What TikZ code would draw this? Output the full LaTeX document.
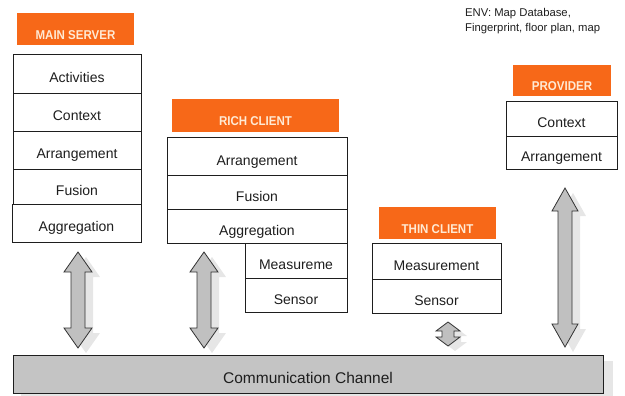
\documentclass[tikz,border=0pt]{standalone}
\usepackage{fontspec}
\setmainfont{Liberation Sans}
\usepackage{graphicx}
\usetikzlibrary{calc}
\definecolor{orng}{RGB}{247,104,24}
\definecolor{otxt}{RGB}{255,234,212}
\definecolor{agray}{RGB}{192,192,192}
\definecolor{cgray}{RGB}{196,196,196}
\definecolor{shd}{RGB}{230,230,230}
\definecolor{ink}{RGB}{30,30,30}
\newcommand\dblarrow[6]{%
  \path[#1] (#2) -- ($(#2)+(#5,#6)$) -- ($(#2)+(#4,#6)$) -- ($(#3)+(#4,-#6)$)
    -- ($(#3)+(#5,-#6)$) -- (#3) -- ($(#3)+(-#5,-#6)$) -- ($(#3)+(-#4,-#6)$)
    -- ($(#2)+(-#4,#6)$) -- ($(#2)+(-#5,#6)$) -- cycle;}
\newcommand\otx[1]{\scalebox{0.9}[1]{#1}}
\begin{document}
\begin{tikzpicture}[x=1pt,y=-1pt,
  cell/.style={draw=ink, line width=0.8pt, fill=white, inner sep=0pt,
    text height=18pt, text depth=0pt,
    font=\fontsize{14}{16}\selectfont, text=ink},
  obox/.style={fill=orng, draw=none, inner sep=0pt},
  otext/.style={text=otxt, inner sep=0pt, font=\fontsize{12.8}{14}\selectfont\bfseries},
  arr/.style={draw=black!80, line width=0.8pt, fill=agray, line join=miter},
  arrshadow/.style={fill=shd, draw=none},
  chan/.style={draw=ink, line width=0.9pt, fill=cgray, inner sep=0pt,
    text height=19pt, text depth=0pt,
    font=\fontsize{15.5}{18}\selectfont, text=ink},
  envtext/.style={align=left, inner sep=0pt, text=ink,
    font=\fontsize{11.3}{15}\selectfont}]
\useasboundingbox (0,0) rectangle (625,396);

% ---------- MAIN SERVER ----------
\node[obox, minimum width=117, minimum height=32] (msL) at (75.5,29) {};
\node[otext] (msLt) at ($(msL.center)+(0,6)$) {\otx{MAIN SERVER}};
\node[cell, minimum width=128, minimum height=39] (msAct) at (77,73.5) {Activities};
\node[cell, minimum width=128, minimum height=38] (msCtx) at (77,112) {Context};
\node[cell, minimum width=128, minimum height=38] (msArr) at (77,150) {Arrangement};
\node[cell, minimum width=128, minimum height=35] (msFus) at (77,186.5) {Fusion};
\node[cell, minimum width=129, minimum height=38] (msAgg) at (76.5,223) {Aggregation};

% ---------- RICH CLIENT ----------
\node[obox, minimum width=167, minimum height=33] (rcL) at (255.5,115.5) {};
\node[otext] (rcLt) at ($(rcL.center)+(0,6)$) {\otx{RICH CLIENT}};
\node[cell, minimum width=180, minimum height=38] (rcArr) at (257,156) {Arrangement};
\node[cell, minimum width=180, minimum height=34] (rcFus) at (257,192) {Fusion};
\node[cell, minimum width=180, minimum height=34] (rcAgg) at (257,226) {Aggregation};
\node[cell, minimum width=102, minimum height=35] (rcMea) at (296,260.5) {Measureme};
\node[cell, minimum width=102, minimum height=34] (rcSen) at (296,295) {Sensor};

% ---------- THIN CLIENT ----------
\node[obox, minimum width=117, minimum height=32] (tcL) at (437.5,223) {};
\node[otext] (tcLt) at ($(tcL.center)+(0,6)$) {\otx{THIN CLIENT}};
\node[cell, minimum width=129, minimum height=36] (tcMea) at (436.5,261) {Measurement};
\node[cell, minimum width=129, minimum height=34] (tcSen) at (436.5,296) {Sensor};

% ---------- PROVIDER ----------
\node[obox, minimum width=98, minimum height=31] (pvL) at (562,80.5) {};
\node[otext] (pvLt) at ($(pvL.center)+(0,6)$) {\otx{PROVIDER}};
\node[cell, minimum width=111, minimum height=35] (pvCtx) at (561.5,118.5) {Context};
\node[cell, minimum width=111, minimum height=33] (pvArr) at (561.5,152.5) {Arrangement};

% ---------- ENV note ----------
\node[envtext, anchor=north west] (env) at (465,8) {ENV: Map Database,\\Fingerprint, floor plan, map};

% ---------- arrow end points ----------
\coordinate (a1t) at (78,252);  \coordinate (a1b) at (78,348);
\coordinate (a2t) at (204,252); \coordinate (a2b) at (204,348);
\coordinate (a3t) at (448,322); \coordinate (a3b) at (448,346);
\coordinate (a4t) at (565,188); \coordinate (a4b) at (565,347);
\coordinate (a1ts) at ($(a1t)+(8,5)$); \coordinate (a1bs) at ($(a1b)+(8,5)$);
\coordinate (a2ts) at ($(a2t)+(8,5)$); \coordinate (a2bs) at ($(a2b)+(8,5)$);
\coordinate (a3ts) at ($(a3t)+(7,5)$); \coordinate (a3bs) at ($(a3b)+(7,5)$);
\coordinate (a4ts) at ($(a4t)+(8,5)$); \coordinate (a4bs) at ($(a4b)+(8,5)$);

% shadows
\dblarrow{arrshadow}{a1ts}{a1bs}{7}{14}{20}
\dblarrow{arrshadow}{a2ts}{a2bs}{7}{14}{20}
\dblarrow{arrshadow}{a3ts}{a3bs}{6}{12}{9}
\dblarrow{arrshadow}{a4ts}{a4bs}{7}{13}{23}
\fill[shd] (21,361) rectangle (613,396);

% ---------- Communication channel ----------
\node[chan, minimum width=590, minimum height=38] (ch) at (308,374) {Communication Channel};

% ---------- arrows ----------
\dblarrow{arr}{a1t}{a1b}{7}{14}{20}
\dblarrow{arr}{a2t}{a2b}{7}{14}{20}
\dblarrow{arr}{a3t}{a3b}{6}{12}{9}
\dblarrow{arr}{a4t}{a4b}{7}{13}{23}
\end{tikzpicture}
\end{document}
